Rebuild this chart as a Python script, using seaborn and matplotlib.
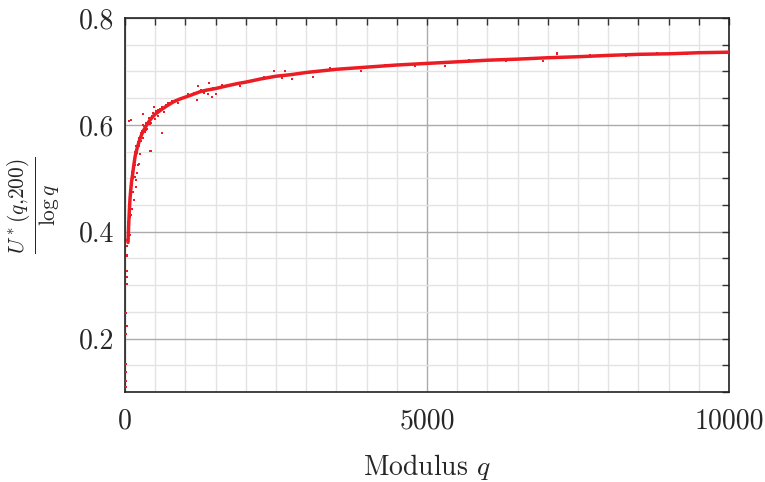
import matplotlib
matplotlib.use("Agg")
import matplotlib.pyplot as plt
import seaborn as sns
import pandas as pd
from matplotlib.ticker import MultipleLocator, FixedLocator

# ---- data ----
curve_q = [50, 60, 72, 83, 95, 110, 127, 138, 150, 166, 182, 200, 221, 248, 276, 300,
           331, 360, 414, 450, 500, 560, 634, 700, 800, 900, 1000, 1100, 1242, 1350,
           1500, 1650, 1850, 2000, 2250, 2500, 2750, 3000, 3250, 3500, 3750, 4000,
           4500, 5000, 5500, 6000, 6500, 7000, 7500, 8000, 8500, 9000, 9500, 10000]
curve_u = [0.38, 0.41, 0.44, 0.462, 0.478, 0.495, 0.508, 0.518, 0.528, 0.54, 0.548,
           0.556, 0.564, 0.574, 0.582, 0.588, 0.594, 0.600, 0.609, 0.614, 0.620, 0.625,
           0.631, 0.636, 0.643, 0.648, 0.652, 0.656, 0.662, 0.665, 0.668, 0.672, 0.677,
           0.680, 0.686, 0.691, 0.694, 0.698, 0.701, 0.704, 0.706, 0.708, 0.712, 0.715,
           0.718, 0.721, 0.723, 0.7256, 0.7275, 0.730, 0.732, 0.733, 0.735, 0.736]

scatter_q = [11, 11, 11, 17, 17, 17, 28, 28, 28, 28, 38, 38, 38, 40, 55, 72, 83,
             83, 99, 110, 72, 110, 138, 83, 149, 166, 221, 127, 193, 138, 177,
             166, 248, 414, 60, 94, 303, 480, 607, 425, 237, 166, 182, 1048, 1380,
             1507, 2467, 2649, 3118, 2759, 1214, 1396, 1435, 1186, 5298, 7147, 6926,
             7158, 300, 350, 420, 520, 650, 750, 880, 1150, 1300, 1600, 1900, 2300,
             2600, 3400, 3900, 4300, 4800, 5700, 6300, 7700, 8300, 8800, 9300,
             120, 130, 145, 160, 175, 190, 210, 230, 260, 280, 320, 340, 380, 400,
             440, 470, 540, 580, 620, 680, 720, 780, 850, 950, 1050, 1250, 1450,
             100, 115, 135, 155, 170, 200, 240, 270, 290, 330, 370, 430, 490, 550,
             66, 77, 88, 105]
scatter_u = [0.109, 0.121, 0.153, 0.137, 0.209, 0.247, 0.356, 0.327, 0.302, 0.224,
             0.374, 0.315, 0.384, 0.355, 0.418, 0.409, 0.393, 0.449, 0.431, 0.443,
             0.434, 0.487, 0.474, 0.465, 0.459, 0.524, 0.524, 0.515, 0.509, 0.500,
             0.496, 0.549, 0.546, 0.552, 0.608, 0.609, 0.621, 0.634, 0.585, 0.552,
             0.526, 0.502, 0.484, 0.657, 0.657, 0.657, 0.700, 0.701, 0.690, 0.686,
             0.673, 0.679, 0.652, 0.646, 0.710, 0.7335, 0.720, 0.734, 0.600, 0.590,
             0.602, 0.626, 0.624, 0.640, 0.640, 0.659, 0.660, 0.675, 0.672, 0.689,
             0.688, 0.706, 0.701, 0.712, 0.711, 0.721, 0.719, 0.731, 0.728, 0.734, 0.733,
             0.512, 0.520, 0.532, 0.543, 0.549, 0.560, 0.568, 0.576, 0.584, 0.589,
             0.598, 0.603, 0.606, 0.612, 0.617, 0.622, 0.627, 0.630, 0.633, 0.637,
             0.640, 0.644, 0.647, 0.651, 0.654, 0.665, 0.669,
             0.478, 0.492, 0.505, 0.522, 0.531, 0.547, 0.561, 0.570, 0.576, 0.587,
             0.592, 0.603, 0.611, 0.617,
             0.402, 0.428, 0.452, 0.470]

x_major = [0, 5000, 10000]
y_major = [0.2, 0.4, 0.6, 0.8]

curve_df = pd.DataFrame({"q": curve_q, "u": curve_u})
scatter_df = pd.DataFrame({"q": scatter_q, "u": scatter_u})

sns.set_style("white")
plt.rcParams["font.family"] = "serif"
plt.rcParams["font.serif"] = ["cmr10"]
plt.rcParams["mathtext.fontset"] = "cm"
plt.rcParams["axes.formatter.use_mathtext"] = True

RED = "#ec1c24"

fig = plt.figure(figsize=(7.65, 4.82), dpi=100)
ax = fig.add_axes([125 / 765, 1 - 392 / 482, (729 - 125) / 765, (392 - 18) / 482])

sns.lineplot(data=curve_df, x="q", y="u", ax=ax, color=RED, linewidth=2.5,
             zorder=3, sort=True)
sns.scatterplot(data=scatter_df, x="q", y="u", ax=ax, color=RED, marker="s",
                s=3, linewidth=0, zorder=4)

ax.set_xlim(0, 10000)
ax.set_ylim(0.1, 0.8)
ax.xaxis.set_major_locator(FixedLocator(x_major))
ax.yaxis.set_major_locator(FixedLocator(y_major))
ax.xaxis.set_minor_locator(MultipleLocator(500))
ax.yaxis.set_minor_locator(MultipleLocator(0.05))
ax.set_xticklabels([str(v) for v in x_major])
ax.set_yticklabels([f"{v:.1f}" for v in y_major])

ax.grid(which="minor", color="#e3e3e3", linewidth=1.0, zorder=0)
ax.grid(which="major", color="#ababab", linewidth=1.0, zorder=1)
ax.set_axisbelow(True)

ax.tick_params(which="both", direction="in", top=True, right=True,
               length=5, width=1.0, color="#333333", labelsize=20)
ax.tick_params(axis="x", which="major", pad=12)
ax.tick_params(axis="y", which="major", pad=8)
for s in ax.spines.values():
    s.set_color("#222222")
    s.set_linewidth(1.2)
    s.set_visible(True)

ax.set_xlabel(r"Modulus $q$", fontsize=20, labelpad=12)
ax.set_ylabel(r"$\frac{U^*(q{,}200)}{\log q}$", fontsize=22, labelpad=12)

fig.savefig("out.png", dpi=100)
